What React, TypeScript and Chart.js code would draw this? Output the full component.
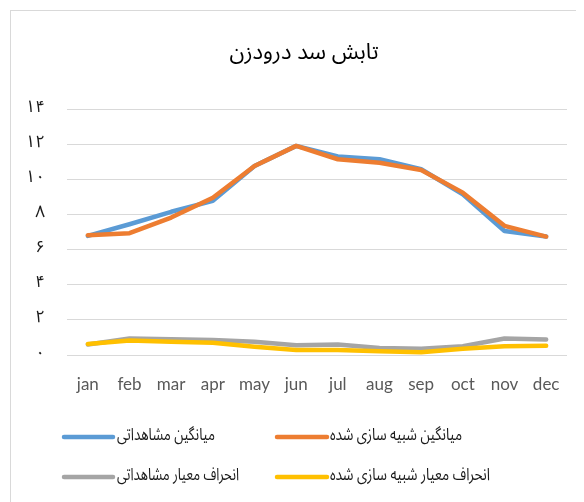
import React, { useEffect, useRef } from "react";
import { Chart, registerables } from "chart.js";

Chart.register(...registerables);

const months = ["jan", "feb", "mar", "apr", "may", "jun", "jul", "aug", "sep", "oct", "nov", "dec"];
const obsMean = [6.78, 7.44, 8.15, 8.77, 10.76, 11.9, 11.3, 11.14, 10.57, 9.15, 7.06, 6.74];
const simMean = [6.82, 6.93, 7.82, 8.95, 10.76, 11.9, 11.14, 10.94, 10.53, 9.24, 7.35, 6.74];
const obsStd = [0.6, 0.94, 0.9, 0.85, 0.75, 0.55, 0.6, 0.4, 0.35, 0.5, 0.94, 0.88];
const simStd = [0.63, 0.82, 0.75, 0.7, 0.47, 0.28, 0.28, 0.22, 0.16, 0.35, 0.5, 0.53];
const yTickLabels = ["۰", "۲", "۴", "۶", "۸", "۱۰", "۱۲", "۱۴"];
const titleText = "تابش سد درودزن";
const seriesNames = [
  "میانگین مشاهداتی",
  "میانگین شبیه سازی شده",
  "انحراف معیار مشاهداتی",
  "انحراف معیار شبیه سازی شده",
];
const seriesColors = ["#5B9BD5", "#ED7D31", "#A5A5A5", "#FFC000"];

const FA_FONT = 'Tahoma, "Noto Sans Arabic", "DejaVu Sans", sans-serif';
const LATIN_FONT = 'Lato, "Open Sans", sans-serif';

const titlePlugin = {
  id: "customTitle",
  afterDraw(chart: any) {
    const ctx = chart.ctx;
    ctx.save();
    ctx.font = `22px ${FA_FONT}`;
    ctx.fillStyle = "#000000";
    ctx.textAlign = "center";
    ctx.textBaseline = "middle";
    ctx.fillText(titleText, 296, 48);
    ctx.restore();
  },
};

const legendPlugin = {
  id: "customLegend",
  afterDraw(chart: any) {
    const ctx = chart.ctx;
    const rows = [429, 469];
    const cols = [
      { l0: 56, l1: 105, t: 109 },
      { l0: 269, l1: 319, t: 322 },
    ];
    const maxW = [98, 132, 122, 160];
    ctx.save();
    ctx.font = `17px ${FA_FONT}`;
    ctx.textBaseline = "middle";
    ctx.textAlign = "left";
    for (let i = 0; i < seriesNames.length; i++) {
      const r = rows[Math.floor(i / 2)];
      const c = cols[i % 2];
      ctx.strokeStyle = seriesColors[i];
      ctx.lineWidth = 4.5;
      ctx.lineCap = "round";
      ctx.beginPath();
      ctx.moveTo(c.l0, r);
      ctx.lineTo(c.l1, r);
      ctx.stroke();
      ctx.fillStyle = "#1a1a1a";
      ctx.fillText(seriesNames[i], c.t, r, maxW[i]);
    }
    ctx.restore();
  },
};

export default function App() {
  const ref = useRef<HTMLCanvasElement | null>(null);
  useEffect(() => {
    if (!ref.current) return;
    const mk = (i: number, data: number[]) => ({
      label: seriesNames[i],
      data,
      borderColor: seriesColors[i],
      backgroundColor: seriesColors[i],
      borderWidth: 4.5,
      pointRadius: 0,
      pointHoverRadius: 0,
      tension: 0,
      borderCapStyle: "round" as const,
      borderJoinStyle: "round" as const,
      fill: false,
    });
    const chart = new Chart(ref.current, {
      type: "line",
      data: {
        labels: months,
        datasets: [mk(3, simStd), mk(2, obsStd), mk(1, simMean), mk(0, obsMean)],
      },
      plugins: [titlePlugin, legendPlugin],
      options: {
        animation: false,
        responsive: false,
        maintainAspectRatio: false,
        events: [],
        layout: { padding: { left: 0, right: 33, top: 101, bottom: 107 } },
        plugins: {
          legend: { display: false },
          tooltip: { enabled: false },
          title: { display: false },
        },
        scales: {
          x: {
            offset: true,
            grid: { display: false, drawTicks: false },
            border: { display: false },
            ticks: {
              color: "#595959",
              font: { family: LATIN_FONT, size: 17 },
              padding: 19,
              maxRotation: 0,
              autoSkip: false,
            },
            afterFit: (s: any) => {
              s.height = 40;
            },
          },
          y: {
            min: 0,
            max: 14,
            grid: { color: "#D9D9D9", lineWidth: 1, drawTicks: false },
            border: { display: false },
            ticks: {
              stepSize: 2,
              color: "#1a1a1a",
              font: { family: FA_FONT, size: 17 },
              padding: 22,
              callback: (v: any) => yTickLabels[Math.round(Number(v) / 2)],
            },
            afterFit: (s: any) => {
              s.width = 59;
            },
          },
        },
      },
    });
    return () => chart.destroy();
  }, []);
  return (
    <div style={{ position: "relative", width: 576, height: 494, overflow: "hidden" }}>
      <div
        style={{
          position: "absolute",
          left: 2,
          top: 2,
          width: 700,
          height: 700,
          border: "1px solid #D9D9D9",
          boxSizing: "border-box",
        }}
      />
      <canvas
        ref={ref}
        width={592}
        height={494}
        style={{ position: "absolute", left: 0, top: 0, width: 592, height: 494 }}
      />
    </div>
  );
}
